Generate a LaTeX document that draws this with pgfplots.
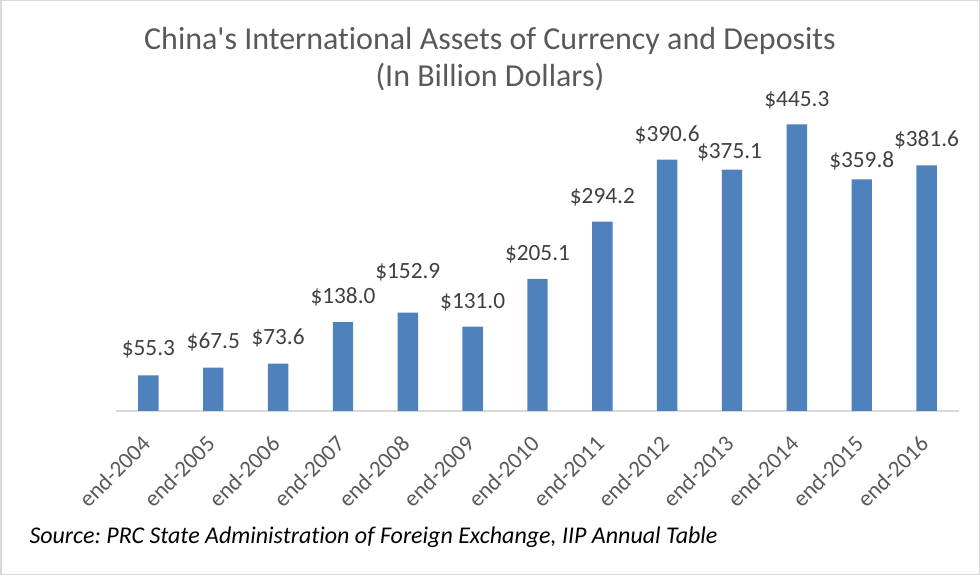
\documentclass[border=0pt]{standalone}
\usepackage{pgfplots}
\pgfplotsset{compat=1.18}
\usepackage{fontspec}
\setmainfont{Carlito}[Ligatures=CommonOff]
\definecolor{barblue}{HTML}{4F81BD}
\definecolor{titlegray}{HTML}{595959}
\definecolor{labelgray}{HTML}{404040}
\definecolor{framegray}{HTML}{D9D9D9}
\frenchspacing
\begin{document}
\begin{tikzpicture}
\useasboundingbox (0,0) rectangle (980bp,575bp);
\draw[framegray, line width=1.5bp] (0.75bp,0.75bp) rectangle (979.25bp,574.25bp);
\node[anchor=base, text=titlegray, font=\fontsize{32bp}{38bp}\selectfont, inner sep=0pt] at (490bp,525bp) {China\textquotesingle s International Assets of Currency and Deposits};
\node[anchor=base, text=titlegray, font=\fontsize{32bp}{38bp}\selectfont, inner sep=0pt] at (490bp,488bp) {(In Billion Dollars)};
\node[anchor=base west, text=black, font=\itshape\fontsize{24bp}{29bp}\selectfont, inner sep=0pt] at (29.3bp,32bp) {Source: PRC State Administration of Foreign Exchange, IIP Annual Table};
\begin{axis}[
  at={(116bp,164bp)}, anchor=south west,
  width=843bp, height=321.9bp, scale only axis,
  xmin=-0.5, xmax=12.5, ymin=0, ymax=500,
  axis x line*=bottom, axis y line=none,
  x axis line style={-, draw=framegray, line width=1.5bp},
  major tick length=0pt,
  xtick={0,...,12},
  xticklabels={end-2004,end-2005,end-2006,end-2007,end-2008,end-2009,end-2010,end-2011,end-2012,end-2013,end-2014,end-2015,end-2016},
  xticklabel style={xshift=-8.1bp, yshift=-23.1bp, rotate=45, anchor=north east, inner sep=0pt, text=titlegray, font=\fontsize{23bp}{28bp}\selectfont},
  clip=false,
]
\addplot[ybar, fill=barblue, draw=none, bar width=20.4bp,
  point meta=explicit symbolic, nodes near coords,
  every node near coord/.append style={anchor=base, yshift=18.3bp, inner sep=0pt, text=labelgray, font=\fontsize{23.3bp}{28bp}\selectfont}]
coordinates {
(0,55.3) [\raisebox{1.5bp}{\$55.3}]
(1,67.5) [\raisebox{0.7bp}{\$67.5}]
(2,73.6) [\raisebox{0.7bp}{\$73.6}]
(3,138.0) [\$138.0]
(4,152.9) [\raisebox{15.7bp}{\$152.9}]
(5,131.0) [\$131.0]
(6,205.1) [\$205.1]
(7,294.2) [\$294.2]
(8,390.6) [\$390.6]
(9,375.1) [\hspace{-5bp}\raisebox{-7.5bp}{\$375.1}]
(10,445.3) [\raisebox{-0.7bp}{\$445.3}]
(11,359.8) [\raisebox{-6.6bp}{\$359.8}]
(12,381.6) [\raisebox{0.7bp}{\$381.6}]
};
\end{axis}
\end{tikzpicture}
\end{document}
